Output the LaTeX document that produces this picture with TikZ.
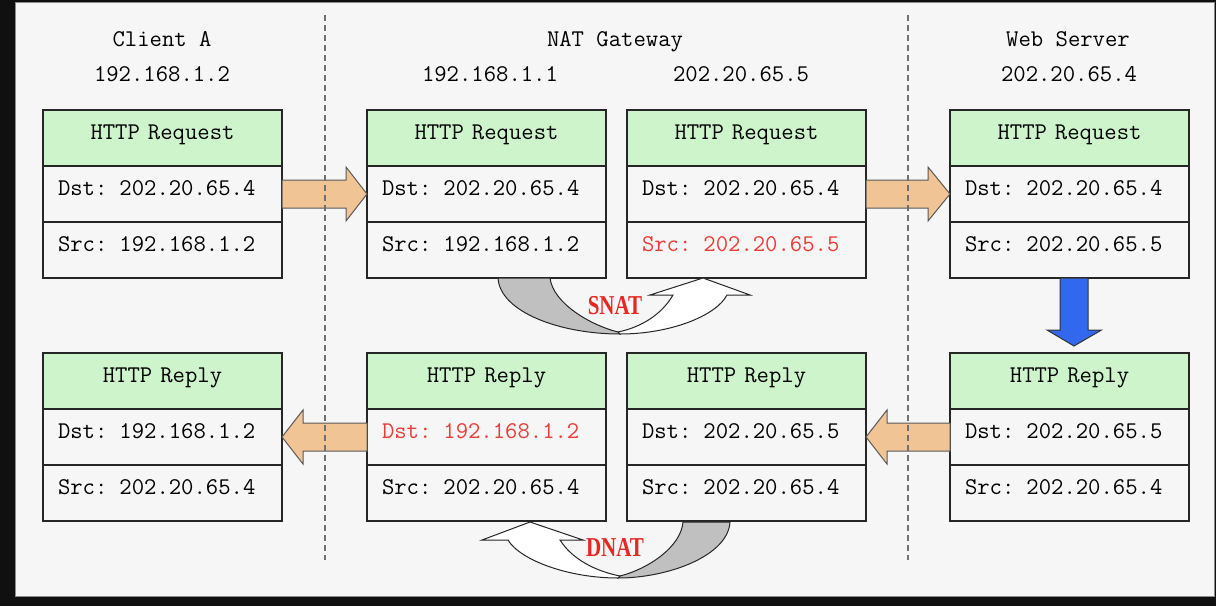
\documentclass[tikz,border=0pt]{standalone}
\usepackage{fontspec}
\usepackage{graphicx}
\newfontfamily\natfont{Liberation Serif}
\usetikzlibrary{calc}
\definecolor{bg}{RGB}{246,246,246}
\definecolor{framec}{RGB}{16,16,16}
\definecolor{hdr}{RGB}{206,244,204}
\definecolor{orng}{RGB}{241,196,150}
\definecolor{blu}{RGB}{50,104,238}
\definecolor{redt}{RGB}{236,60,56}
\definecolor{natred}{RGB}{228,40,36}
\definecolor{grayband}{RGB}{192,192,192}
\definecolor{dashc}{RGB}{112,112,112}
\begin{document}
\begin{tikzpicture}[x=1pt,y=-1pt,
  cell/.style={draw=black!85, line width=1.3pt, fill=bg, outer sep=0pt,
    minimum width=239pt, minimum height=56pt, text width=209pt,
    inner xsep=15pt, inner ysep=0pt, text height=14pt, text depth=12pt,
    align=left, font=\ttfamily\fontsize{24}{28}\selectfont, anchor=north west},
  hcell/.style={cell, fill=hdr, align=center},
  ttl/.style={font=\ttfamily\fontsize{24}{28}\selectfont, inner sep=0pt,
    text height=15pt, text depth=0pt},
  sepline/.style={dashc, line width=2pt, dash pattern=on 6pt off 4pt},
  oarrow/.style={draw=black!65, line width=1pt, fill=orng, line join=miter},
  barrow/.style={draw=black!80, line width=1pt, fill=blu},
  band/.style={draw=black!85, line width=1pt},
  nat/.style={text=natred, inner sep=0pt, font=\natfont\bfseries\fontsize{21}{24}\selectfont}
]
\useasboundingbox (0,0) rectangle (1216,606);
% frame and background
\fill[framec] (0,0) rectangle (1216,606);
\fill[bg] (15,2) rectangle (1215,597);
\draw[black!45, line width=1pt] (15.5,2.5) rectangle (1214.5,596.5);

% titles
\node[ttl] (tA)  at (162,39)  {Client A};
\node[ttl] (tAi) at (162,74)  {192.168.1.2};
\node[ttl] (tG)  at (615,39)  {NAT Gateway};
\node[ttl] (tGi) at (490,74)  {192.168.1.1};
\node[ttl] (tGo) at (741,74)  {202.20.65.5};
\node[ttl] (tW)  at (1068,39) {Web Server};
\node[ttl] (tWi) at (1069,74) {202.20.65.4};

% request boxes
\node[hcell] (a1h) at (43,110) {HTTP Request};
\node[cell]  (a1d) at (a1h.south west) {Dst: 202.20.65.4};
\node[cell]  (a1s) at (a1d.south west) {Src: 192.168.1.2};
\node[hcell] (a2h) at (367,110) {HTTP Request};
\node[cell]  (a2d) at (a2h.south west) {Dst: 202.20.65.4};
\node[cell]  (a2s) at (a2d.south west) {Src: 192.168.1.2};
\node[hcell] (a3h) at (627,110) {HTTP Request};
\node[cell]  (a3d) at (a3h.south west) {Dst: 202.20.65.4};
\node[cell]  (a3s) at (a3d.south west) {\textcolor{redt}{Src: 202.20.65.5}};
\node[hcell] (a4h) at (950,110) {HTTP Request};
\node[cell]  (a4d) at (a4h.south west) {Dst: 202.20.65.4};
\node[cell]  (a4s) at (a4d.south west) {Src: 202.20.65.5};

% reply boxes
\node[hcell] (b1h) at (43,353) {HTTP Reply};
\node[cell]  (b1d) at (b1h.south west) {Dst: 192.168.1.2};
\node[cell]  (b1s) at (b1d.south west) {Src: 202.20.65.4};
\node[hcell] (b2h) at (367,353) {HTTP Reply};
\node[cell]  (b2d) at (b2h.south west) {\textcolor{redt}{Dst: 192.168.1.2}};
\node[cell]  (b2s) at (b2d.south west) {Src: 202.20.65.4};
\node[hcell] (b3h) at (627,353) {HTTP Reply};
\node[cell]  (b3d) at (b3h.south west) {Dst: 202.20.65.5};
\node[cell]  (b3s) at (b3d.south west) {Src: 202.20.65.4};
\node[hcell] (b4h) at (950,353) {HTTP Reply};
\node[cell]  (b4d) at (b4h.south west) {Dst: 202.20.65.5};
\node[cell]  (b4s) at (b4d.south west) {Src: 202.20.65.4};

% orange block arrows (request, to the right)
\draw[oarrow] ($(a1d.east)+(0,-14)$) -- ($(a2d.west)+(-21,-14)$) -- ($(a2d.west)+(-21,-27)$)
  -- (a2d.west) -- ($(a2d.west)+(-21,27)$) -- ($(a2d.west)+(-21,14)$) -- ($(a1d.east)+(0,14)$) -- cycle;
\draw[oarrow] ($(a3d.east)+(0,-14)$) -- ($(a4d.west)+(-22,-14)$) -- ($(a4d.west)+(-22,-27)$)
  -- (a4d.west) -- ($(a4d.west)+(-22,27)$) -- ($(a4d.west)+(-22,14)$) -- ($(a3d.east)+(0,14)$) -- cycle;
% orange block arrows (reply, to the left)
\draw[oarrow] ($(b2d.west)+(0,-14)$) -- ($(b1d.east)+(21,-14)$) -- ($(b1d.east)+(21,-27)$)
  -- (b1d.east) -- ($(b1d.east)+(21,27)$) -- ($(b1d.east)+(21,14)$) -- ($(b2d.west)+(0,14)$) -- cycle;
\draw[oarrow] ($(b4d.west)+(0,-14)$) -- ($(b3d.east)+(21,-14)$) -- ($(b3d.east)+(21,-27)$)
  -- (b3d.east) -- ($(b3d.east)+(21,27)$) -- ($(b3d.east)+(21,14)$) -- ($(b4d.west)+(0,14)$) -- cycle;

% blue down arrow
\draw[barrow] ($(a4s.south)+(-9.5,0)$) -- ($(b4h.north)+(-9.5,-23)$) -- ($(b4h.north)+(-22.5,-23)$)
  -- ($(b4h.north)+(4.5,-7)$) -- ($(b4h.north)+(32,-23)$) -- ($(b4h.north)+(18.5,-23)$)
  -- ($(a4s.south)+(18.5,0)$) -- cycle;

% SNAT u-turn
\draw[band, fill=grayband] (498,278) .. controls (500,312) and (560,334) .. (620,334)
  -- (618,332) .. controls (590,325) and (553,303) .. (550,278) -- cycle;
\draw[band, fill=white] (620,334) .. controls (670,334) and (716,316) .. (727,295)
  -- (750,295) -- (703,278) -- (650,295) -- (673,295)
  .. controls (662,314) and (642,327) .. (618,332) -- cycle;
\node[nat] (snat) at (615,306) {\scalebox{1}[1.3]{SNAT}};

% DNAT u-turn
\draw[band, fill=grayband] (730,522) .. controls (728,556) and (668,578) .. (618,578)
  -- (620,576) .. controls (648,569) and (681,547) .. (683,522) -- cycle;
\draw[band, fill=white] (618,578) .. controls (568,578) and (520,560) .. (508,540)
  -- (482,540) -- (530,522) -- (583,540) -- (560,540)
  .. controls (572,559) and (595,571) .. (620,576) -- cycle;
\node[nat] (dnat) at (615,548) {\scalebox{1}[1.3]{DNAT}};

% dashed separators
\coordinate (s1t) at (325,15);
\coordinate (s1b) at (325,560);
\coordinate (s2t) at (908,15);
\coordinate (s2b) at (908,560);
\draw[sepline] (s1t) -- (s1b);
\draw[sepline] (s2t) -- (s2b);
\end{tikzpicture}
\end{document}
